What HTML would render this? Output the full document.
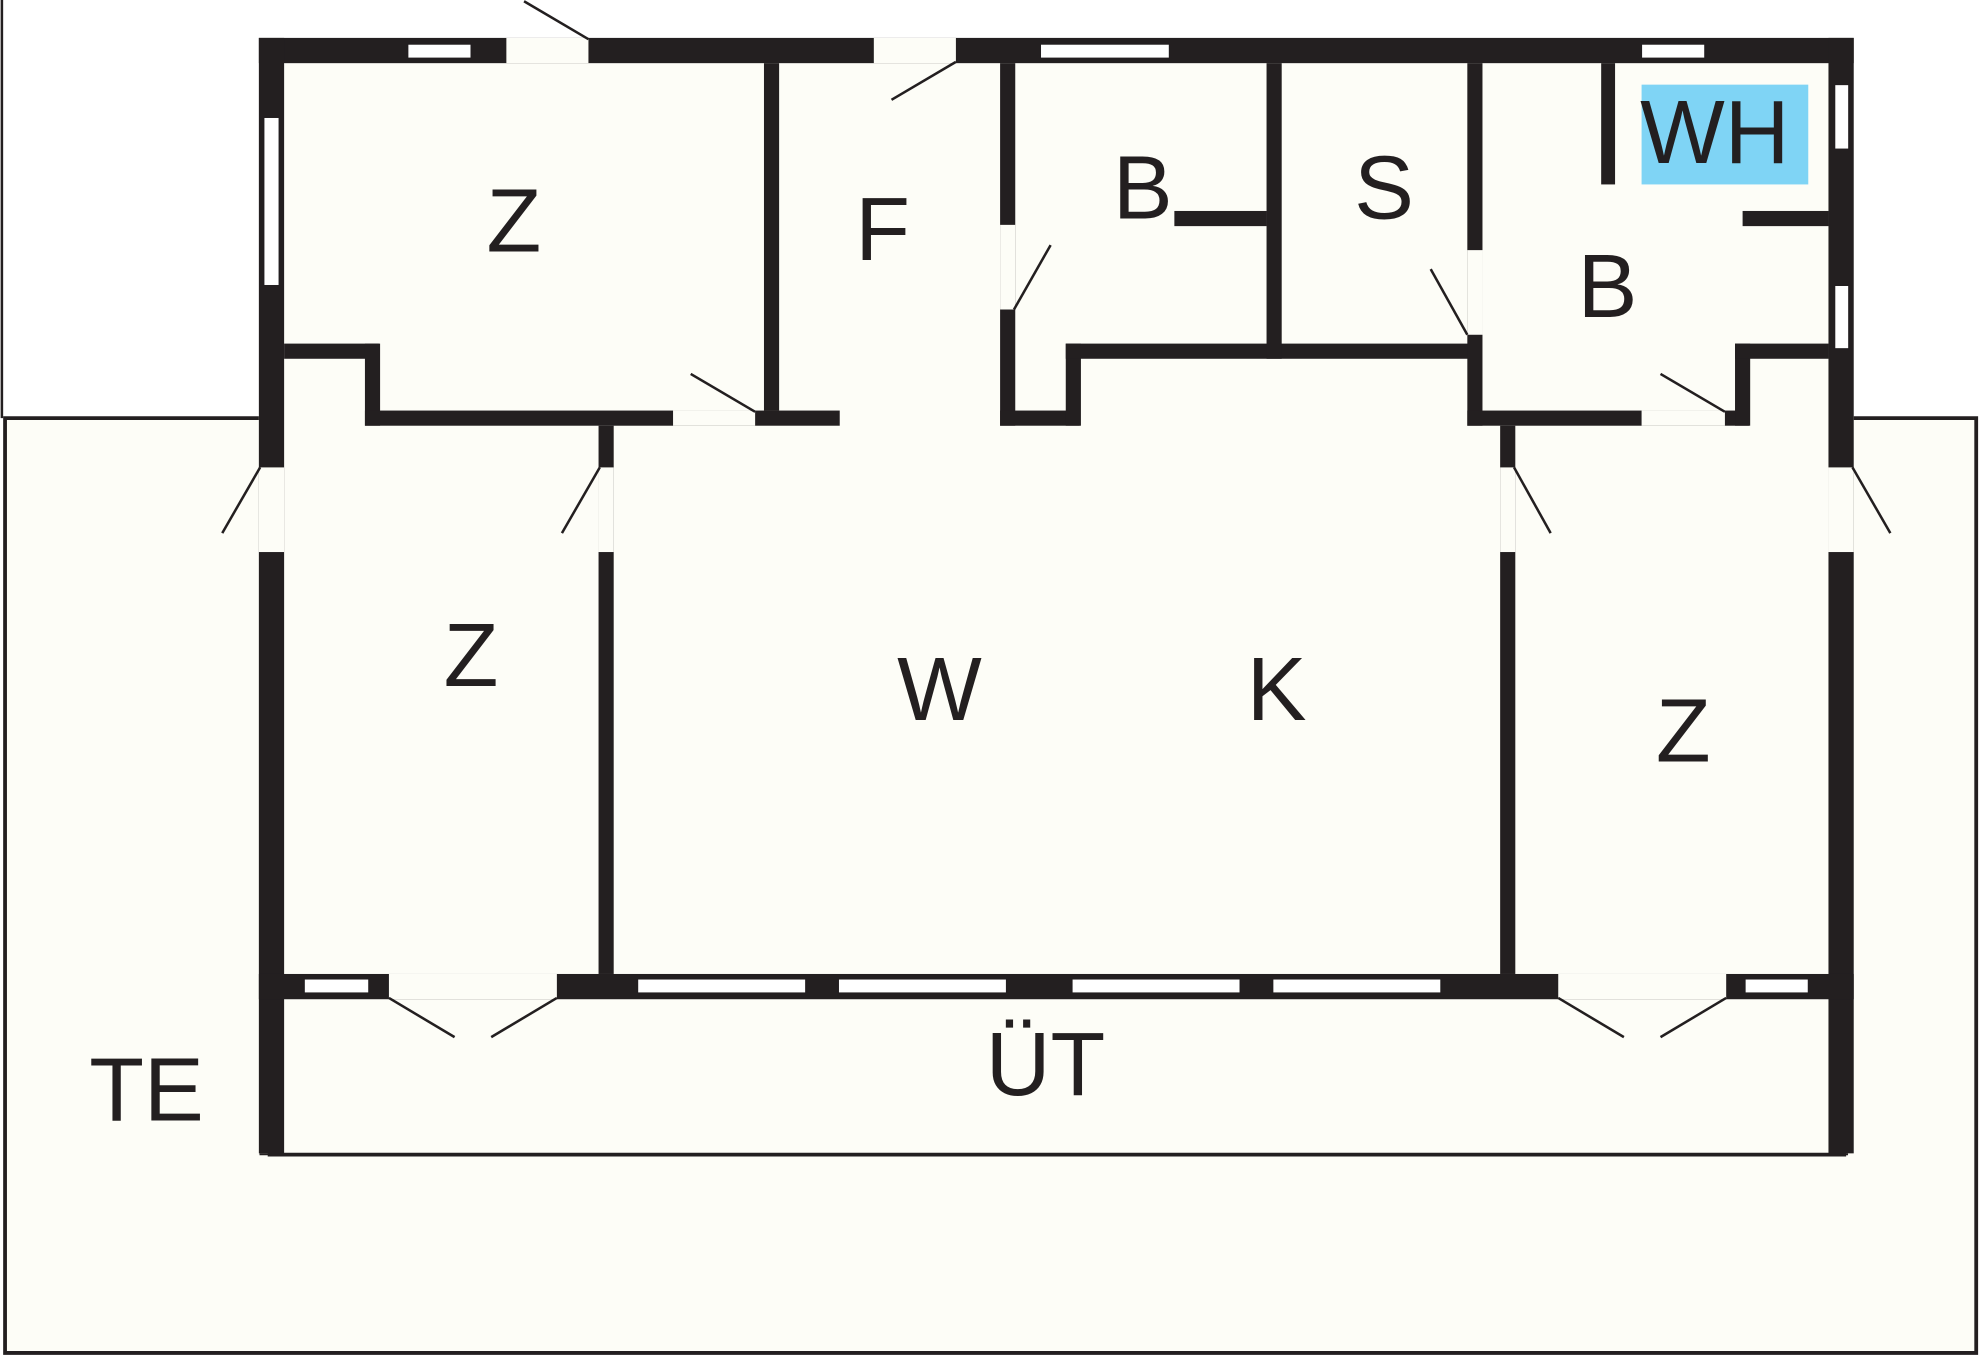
<!DOCTYPE html>
<html><head><meta charset="utf-8"><style>
html,body{margin:0;padding:0;background:#fff;}
svg{display:block;}
text{font-family:"Liberation Sans",sans-serif;fill:#231f20;}
</style></head><body>
<svg width="1980" height="1358" viewBox="0 0 1568 1075" preserveAspectRatio="none" xmlns="http://www.w3.org/2000/svg">
<rect x="0" y="0" width="1568" height="1075" fill="#ffffff"/>
<polygon points="4,331 207,331 207,913 1462,913 1462,331 1565,331 1565,1071 4,1071" fill="#fdfdf7" stroke="#231f20" stroke-width="3"/>
<line x1="1.5" y1="0" x2="1.5" y2="331" stroke="#231f20" stroke-width="2"/>
<rect x="205" y="30" width="1263" height="883" fill="#fdfdf7"/>
<line x1="212" y1="914" x2="1462" y2="914" stroke="#231f20" stroke-width="3"/>
<g fill="#231f20">
<rect x="205" y="30" width="1263" height="20"/>
<rect x="205" y="30" width="20" height="883"/>
<rect x="1448" y="30" width="20" height="883"/>
<rect x="205" y="771" width="1263" height="20"/>
<rect x="225" y="272" width="75" height="12"/>
<rect x="289" y="272" width="12" height="65"/>
<rect x="289" y="325" width="376" height="12"/>
<rect x="605" y="50" width="12" height="275"/>
<rect x="792" y="50" width="12" height="287"/>
<rect x="792" y="325" width="63" height="12"/>
<rect x="844" y="272" width="12" height="65"/>
<rect x="844" y="272" width="329" height="12"/>
<rect x="1003" y="50" width="12" height="234"/>
<rect x="930" y="167" width="73" height="12"/>
<rect x="1162" y="50" width="12" height="287"/>
<rect x="1162" y="325" width="223" height="12"/>
<rect x="1374" y="272" width="12" height="65"/>
<rect x="1374" y="272" width="74" height="12"/>
<rect x="1380" y="167" width="68" height="12"/>
<rect x="1268" y="50" width="11" height="96"/>
<rect x="474" y="337" width="12" height="434"/>
<rect x="1188" y="337" width="12" height="434"/>
</g>
<g fill="#ffffff" stroke="#231f20" stroke-width="0.8">
<rect x="323" y="35" width="50" height="11"/>
<rect x="824" y="35" width="102" height="11"/>
<rect x="1300" y="35" width="50" height="11"/>
<rect x="209" y="93" width="12" height="133"/>
<rect x="1453" y="67" width="11" height="51"/>
<rect x="1453" y="226" width="11" height="50"/>
<rect x="241" y="775" width="51" height="11"/>
<rect x="505" y="775" width="133" height="11"/>
<rect x="664" y="775" width="133" height="11"/>
<rect x="849" y="775" width="133" height="11"/>
<rect x="1008" y="775" width="133" height="11"/>
<rect x="1382" y="775" width="50" height="11"/>
</g>
<g fill="#fdfdf7">
<rect x="401" y="30" width="65" height="20"/>
<rect x="692" y="30" width="65" height="20"/>
<rect x="533" y="325" width="65" height="12"/>
<rect x="792" y="178" width="12" height="67"/>
<rect x="1162" y="198" width="12" height="67"/>
<rect x="1300" y="325" width="66" height="12"/>
<rect x="205" y="370" width="20" height="67"/>
<rect x="474" y="370" width="12" height="67"/>
<rect x="1188" y="370" width="12" height="67"/>
<rect x="1448" y="370" width="20" height="67"/>
<rect x="308" y="771" width="133" height="20"/>
<rect x="1234" y="771" width="133" height="20"/>
</g>
<g stroke="#231f20" stroke-width="2" fill="none">
<line x1="466" y1="31" x2="415" y2="1"/>
<line x1="757" y1="49" x2="706" y2="79"/>
<line x1="598" y1="326" x2="547" y2="296"/>
<line x1="803" y1="245" x2="832" y2="194"/>
<line x1="1162" y1="265" x2="1133" y2="213"/>
<line x1="1366" y1="326" x2="1315" y2="296"/>
<line x1="206" y1="370" x2="176" y2="422"/>
<line x1="475" y1="370" x2="445" y2="422"/>
<line x1="1199" y1="370" x2="1228" y2="422"/>
<line x1="1467" y1="370" x2="1497" y2="422"/>
<line x1="308" y1="790" x2="360" y2="821"/>
<line x1="441" y1="790" x2="389" y2="821"/>
<line x1="1234" y1="790" x2="1286" y2="821"/>
<line x1="1367" y1="790" x2="1315" y2="821"/>
</g>
<rect x="1300" y="67" width="132" height="79" fill="#7fd4f5"/>
<g font-size="71" text-anchor="middle">
<text x="407" y="199">Z</text>
<text x="699" y="206">F</text>
<text x="905" y="173">B</text>
<text x="1096" y="173">S</text>
<text x="1358" y="129">WH</text>
<text x="1273" y="251">B</text>
<text x="373" y="543">Z</text>
<text x="744" y="570">W</text>
<text x="1011" y="570">K</text>
<text x="1333" y="603">Z</text>
<text x="116" y="887">TE</text>
<text x="828" y="867">ÜT</text>
</g>
</svg>
</body></html>
